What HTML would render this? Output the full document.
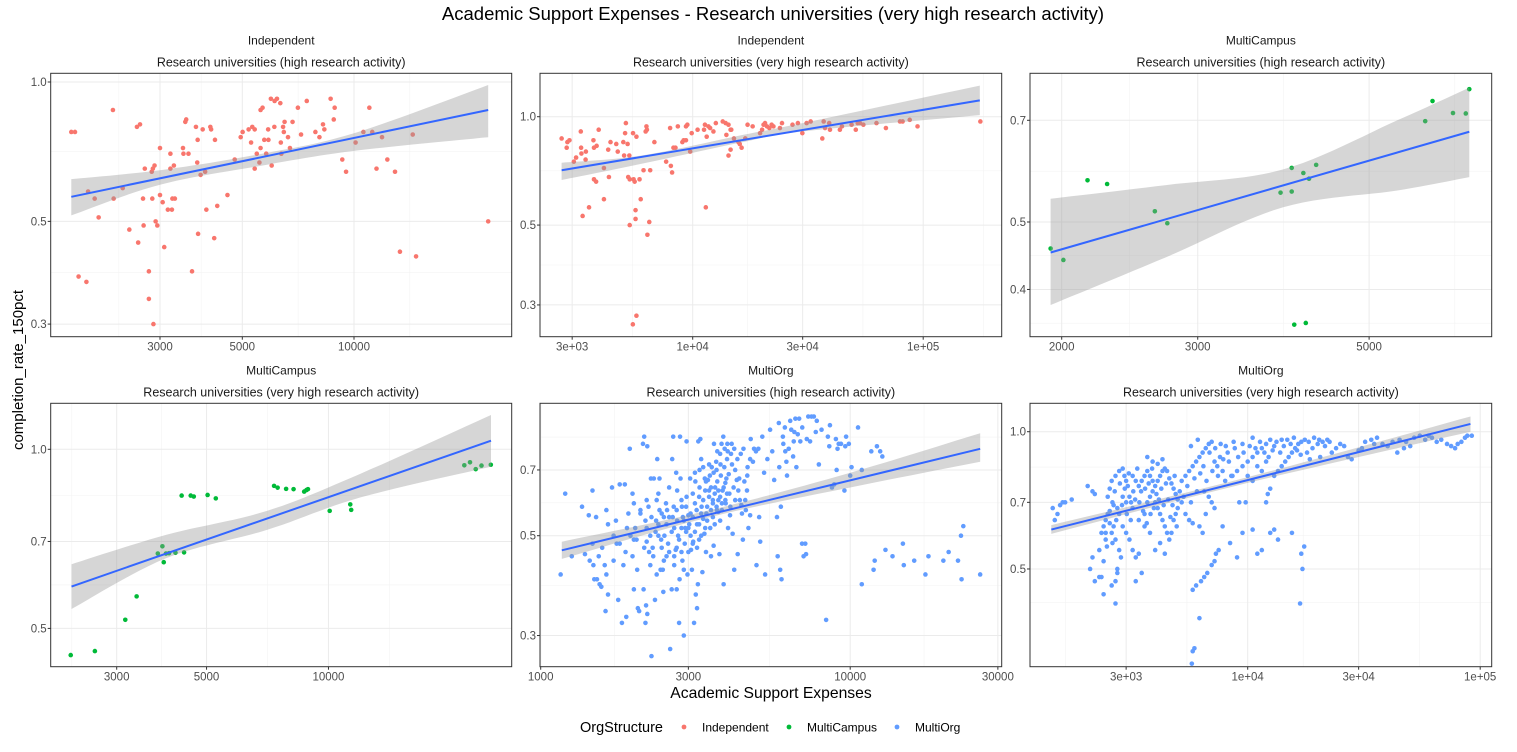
<!DOCTYPE html>
<html><head><meta charset="utf-8"><style>
body{margin:0;background:#fff;}
svg text{font-family:"Liberation Sans",sans-serif;}
</style></head><body>
<svg id="chart" width="1517" height="747" viewBox="0 0 1517 747" xmlns="http://www.w3.org/2000/svg">
<rect width="1517" height="747" fill="#fff"/>
<text x="773" y="20" text-anchor="middle" font-size="18.5" fill="#000">Academic Support Expenses - Research universities (very high research activity)</text>
<text x="771" y="698" text-anchor="middle" font-size="15.7" fill="#000">Academic Support Expenses</text>
<text transform="translate(23,370) rotate(-90)" text-anchor="middle" font-size="15" fill="#000">completion_rate_150pct</text>
<g>
<text x="580" y="732" font-size="14.5" fill="#000">OrgStructure</text>
<circle cx="684" cy="727" r="2.4" fill="#F8766D"/>
<text x="702" y="731.5" font-size="12" fill="#000">Independent</text>
<circle cx="789" cy="727" r="2.4" fill="#00BA38"/>
<text x="807" y="731.5" font-size="12" fill="#000">MultiCampus</text>
<circle cx="897" cy="727" r="2.4" fill="#619CFF"/>
<text x="915" y="731.5" font-size="12" fill="#000">MultiOrg</text>
</g>
</svg>
<script>
// ---------- Panel 1: Independent / high research ----------
const p1Points = [[1730,.78],[1770,.78],[1810,.38],[1900,.37],[1920,.58],[2000,.56],[2050,.51],[2240,.87],[2250,.56],[2380,.59],[2480,.48],[2600,.80],[2650,.81],[2620,.45],[2700,.56],[2710,.49],[2730,.65],[2800,.39],[2800,.34],[2850,.64],[2860,.56],[2870,.65],[2900,.66],[2880,.30],[2920,.50],[2950,.49],[3000,.72],[3000,.57],[3050,.55],[3080,.44],[3150,.53],[3200,.70],[3200,.65],[3230,.53],[3240,.56],[3270,.66],[3290,.56],[3460,.72],[3470,.70],[3510,.82],[3530,.83],[3580,.70],[3660,.39],[3750,.80],[3780,.67],[3790,.75],[3800,.47],[3860,.63],[3910,.79],[3970,.64],[4000,.53],[4100,.80],[4120,.79],[4200,.46],[4220,.75],[4280,.54],[4560,.57],[4770,.68],[4950,.76],[5010,.78],[5200,.79],[5280,.74],[5320,.80],[5400,.79],[5400,.65],[5470,.70],[5560,.67],[5600,.72],[5600,.87],[5670,.88],[5730,.75],[5800,.70],[5880,.75],[5870,.79],[5970,.92],[6000,.66],[6100,.80],[6110,.91],[6200,.92],[6330,.90],[6350,.74],[6370,.70],[6440,.80],[6500,.82],[6470,.78],[6640,.76],[6720,.72],[6830,.82],[7060,.88],[7200,.77],[7460,.91],[7870,.78],[8070,.76],[8250,.81],[8320,.79],[8650,.92],[8870,.88],[8820,.83],[9300,.68],[9520,.64],[10100,.74],[10600,.78],[11000,.88],[11200,.78],[11500,.65],[11900,.76],[12300,.68],[12900,.64],[13300,.43],[14400,.77],[14700,.42],[23000,.50]];
const p1FitX = [1730, 23000];
const p1FitY = [0.565, 0.87];
const p1BandX = [1730, 3000, 5650, 10000, 23000];
const p1BandHi = [0.617, 0.645, 0.70, 0.775, 0.985];
const p1BandLo = [0.515, 0.60, 0.66, 0.71, 0.76];
const p1XTicks = [3000, 5000, 10000];
const p1XLabels = ["3000", "5000", "10000"];
const p1YTicks = [0.3, 0.5, 1.0];
const p1YLabels = ["0.3", "0.5", "1.0"];

// ---------- Panel 2: Independent / very high research ----------
const p2Points = [[2700,.87],[2840,.82],[2860,.85],[2920,.86],[3050,.75],[3120,.77],[3270,.91],[3280,.82],[3290,.79],[3330,.53],[3430,.76],[3440,.80],[3550,.56],[3710,.86],[3730,.82],[3730,.67],[3810,.66],[3830,.83],[3910,.92],[4120,.59],[4120,.72],[4300,.81],[4330,.68],[4400,.85],[4660,.84],[4730,.80],[5000,.85],[5040,.78],[5090,.90],[5130,.96],[5220,.84],[5250,.68],[5310,.78],[5330,.50],[5330,.67],[5510,.90],[5540,.67],[5600,.66],[5650,.55],[5650,.52],[5700,.88],[5700,.28],[5500,.265],[5880,.67],[5950,.59],[6120,.71],[6250,.91],[6300,.94],[6330,.92],[6360,.47],[6480,.51],[6540,.71],[6820,.85],[7670,.75],[7980,.93],[8040,.73],[8140,.70],[8250,.82],[8420,.82],[8620,.94],[9020,.85],[9140,.86],[9350,.86],[9350,.94],[9480,.95],[9750,.80],[9900,.90],[10500,.92],[11200,.92],[11300,.95],[11400,.56],[11500,.88],[11700,.94],[11900,.93],[12300,.91],[12600,.96],[13500,.97],[13900,.96],[14000,.89],[14300,.95],[14300,.78],[14600,.92],[14600,.81],[14700,.92],[15100,.87],[15800,.85],[16000,.84],[16300,.82],[16900,.87],[17300,.95],[18200,.94],[19600,.90],[20000,.92],[20300,.95],[20600,.96],[21000,.94],[21500,.93],[22000,.95],[22400,.94],[23900,.93],[24400,.96],[27100,.95],[28600,.96],[29900,.90],[31200,.96],[32500,.97],[36500,.87],[37000,.97],[37500,.93],[39100,.96],[39400,.92],[43500,.92],[44400,.94],[48900,.95],[51000,.92],[52000,.96],[53200,.96],[55000,.95],[62700,.96],[68900,.93],[79300,.97],[81400,.97],[87400,.98],[94500,.94],[177000,.97]];
const p2FitX = [2700, 176000];
const p2FitY = [0.71, 1.11];
const p2BandX = [2700, 6000, 16500, 30000, 176000];
const p2BandHi = [0.745, 0.78, 0.89, 0.96, 1.22];
const p2BandLo = [0.667, 0.74, 0.85, 0.91, 1.01];
const p2XTicks = [3000, 10000, 30000, 100000];
const p2XLabels = ["3e+03", "1e+04", "3e+04", "1e+05"];
const p2YTicks = [0.3, 0.5, 1.0];
const p2YLabels = ["0.3", "0.5", "1.0"];

// ---------- Panel 3: MultiCampus / high research ----------
const p3Points = [[1935,.458],[2010,.441],[2160,.574],[2290,.567],[2640,.518],[2740,.498],[3840,.551],[3970,.553],[3970,.598],[4000,.356],[4110,.588],[4140,.358],[4180,.577],[4270,.604],[5910,.698],[6040,.746],[6420,.717],[6670,.716],[6740,.776]];
const p3FitX = [1935, 6740];
const p3FitY = [0.452, 0.674];
const p3BandX = [1935, 2730, 3870, 5440, 6740];
const p3BandHi = [0.54, 0.565, 0.595, 0.70, 0.78];
const p3BandLo = [0.38, 0.445, 0.525, 0.555, 0.58];
const p3XTicks = [2000, 3000, 5000];
const p3XLabels = ["2000", "3000", "5000"];
const p3YTicks = [0.4, 0.5, 0.7];
const p3YLabels = ["0.4", "0.5", "0.7"];

// ---------- Panel 4: MultiCampus / very high research ----------
const p4Points = [[2310,.451],[2650,.458],[3150,.517],[3360,.566],[3790,.668],[3890,.687],[3920,.646],[3970,.668],[4040,.669],[4190,.670],[4400,.671],[4340,.836],[4570,.836],[4650,.833],[5030,.838],[5270,.827],[7340,.868],[7490,.862],[7860,.858],[8200,.857],[8710,.849],[8820,.854],[8900,.857],[10070,.788],[11320,.808],[11380,.791],[21650,.940],[22360,.951],[23100,.926],[23870,.939],[25170,.942]];
const p4FitX = [2320, 25200];
const p4FitY = [0.588, 1.034];
const p4BandX = [2320, 3970, 7050, 12000, 25200];
const p4BandHi = [0.641, 0.718, 0.788, 0.91, 1.142];
const p4BandLo = [0.539, 0.656, 0.732, 0.83, 0.935];
const p4XTicks = [3000, 5000, 10000];
const p4XLabels = ["3000", "5000", "10000"];
const p4YTicks = [0.5, 0.7, 1.0];
const p4YLabels = ["0.5", "0.7", "1.0"];

// ---------- Panel 5: MultiOrg / high research ----------
const p5Points = [[1160,.41],[1200,.62],[1260,.45],[1360,.58],[1390,.455],[1430,.555],[1440,.44],[1470,.63],[1470,.48],[1480,.43],[1490,.40],[1510,.55],[1520,.40],[1540,.45],[1550,.39],[1570,.385],[1610,.43],[1620,.34],[1630,.57],[1630,.41],[1650,.37],[1650,.53],[1700,.64],[1720,.44],[1750,.54],[1760,.48],[1780,.36],[1800,.65],[1830,.32],[1850,.43],[1870,.65],[1890,.33],[1920,.56],[1940,.78],[1950,.50],[1980,.62],[2000,.38],[2000,.59],[2020,.52],[2040,.49],[2050,.42],[2060,.345],[2080,.34],[2100,.57],[2140,.80],[2150,.38],[2160,.83],[2180,.54],[2180,.32],[2190,.35],[2200,.485],[2210,.79],[2210,.335],[2230,.58],[2240,.46],[2260,.43],[2270,.67],[2280,.55],[2280,.27],[2310,.45],[2320,.67],[2340,.36],[2370,.60],[2370,.41],[2380,.74],[2400,.50],[2420,.67],[2420,.57],[2440,.42],[2460,.47],[2480,.42],[2490,.375],[2500,.55],[2510,.50],[2540,.59],[2550,.45],[2580,.48],[2600,.64],[2620,.28],[2650,.38],[2660,.74],[2670,.55],[2680,.83],[2690,.58],[2700,.43],[2730,.465],[2740,.69],[2750,.38],[2760,.63],[2780,.50],[2800,.32],[2810,.40],[2820,.83],[2830,.67],[2850,.52],[2870,.44],[2880,.55],[2900,.30],[2920,.48],[2930,.52],[2960,.81],[2980,.41],[3000,.555],[3020,.53],[3040,.67],[3060,.465],[3080,.42],[3100,.62],[3110,.485],[3130,.32],[3150,.69],[3170,.37],[3190,.57],[3200,.345],[3220,.39],[3230,.81],[3250,.53],[3260,.64],[3280,.82],[3310,.58],[3330,.415],[3350,.71],[3380,.505],[3390,.67],[3420,.46],[3430,.56],[3470,.665],[3500,.63],[3530,.52],[3550,.45],[3570,.71],[3600,.59],[3620,.475],[3630,.80],[3660,.64],[3690,.73],[3710,.57],[3720,.77],[3750,.60],[3780,.455],[3800,.54],[3810,.72],[3840,.80],[3870,.63],[3890,.83],[3900,.39],[3930,.78],[3960,.59],[3980,.67],[4010,.80],[4030,.52],[4070,.62],[4090,.555],[4140,.80],[4170,.505],[4220,.42],[4250,.60],[4300,.665],[4330,.455],[4380,.67],[4430,.76],[4470,.56],[4500,.49],[4520,.78],[4580,.60],[4640,.63],[4660,.71],[4690,.52],[4750,.555],[4770,.82],[4850,.73],[4890,.78],[4960,.77],[4980,.43],[5050,.78],[5080,.55],[5120,.485],[5270,.69],[5310,.41],[5510,.86],[5600,.77],[5680,.665],[5800,.55],[5830,.45],[5880,.89],[5940,.42],[5970,.58],[6000,.40],[6060,.83],[6080,.80],[6170,.77],[6220,.73],[6250,.68],[6330,.78],[6400,.90],[6450,.86],[6540,.75],[6570,.81],[6650,.91],[6700,.71],[6770,.84],[6840,.91],[6900,.81],[6990,.48],[7070,.45],[7160,.48],[7200,.455],[7240,.82],[7320,.92],[7420,.81],[7500,.92],[7630,.92],[7740,.85],[7920,.72],[8080,.86],[8360,.325],[8470,.83],[8560,.79],[8730,.64],[8880,.65],[8990,.82],[9040,.70],[9180,.80],[9340,.80],[9580,.63],[9640,.79],[9900,.80],[10000,.68],[10100,.71],[10600,.87],[10900,.70],[10900,.39],[11700,.77],[11900,.42],[12000,.44],[12200,.79],[12500,.77],[12700,.75],[13000,.465],[13700,.45],[14800,.48],[14900,.43],[16100,.44],[17500,.41],[17900,.45],[20000,.44],[20800,.46],[22300,.44],[22800,.50],[22900,.40],[23200,.525],[26300,.41],[2600,.55],[2700,.52],[2750,.57],[2850,.60],[2900,.54],[2950,.58],[3000,.52],[3050,.56],[3100,.55],[3150,.59],[3200,.53],[3250,.61],[3300,.56],[3350,.60],[3400,.63],[3450,.58],[3500,.61],[3550,.64],[3600,.60],[3650,.62],[3700,.58],[3750,.63],[3800,.61],[3850,.57],[3900,.64],[3950,.60],[4000,.62],[3300,.50],[3100,.48],[2800,.49],[2400,.53],[2200,.52],[2000,.49],[2300,.47],[2600,.46],[2500,.44],[2700,.45],[2900,.42],[3000,.46],[3200,.47],[3400,.52],[3600,.55],[4100,.58],[4200,.64],[4400,.60],[4600,.57],[3700,.70],[3500,.72],[3300,.74],[3800,.76],[4000,.74],[2100,.56],[1900,.52],[1800,.48],[2400,.62],[2200,.60],[2350,.51],[2450,.49],[2550,.53],[2650,.51],[2750,.47],[2850,.46],[2950,.51],[3050,.50],[3150,.51],[3250,.49],[3350,.545],[3450,.54],[3550,.57],[3650,.53],[3750,.565],[3850,.59],[3950,.655],[4050,.685],[4150,.72],[4250,.70],[4350,.63],[4450,.585],[4550,.66],[4650,.68],[4750,.74],[3420,.66],[3520,.68],[3620,.69],[3720,.66],[3820,.68],[3920,.71],[4020,.77],[4120,.76],[4220,.78],[4320,.74],[3260,.70],[3160,.66],[2960,.61],[2860,.58],[2760,.54],[2560,.57],[2460,.56],[2360,.54],[2260,.50],[2160,.47],[1980,.45],[1880,.46],[1720,.50],[1580,.47],[5200,.83],[5400,.74],[5900,.71],[6150,.87],[6600,.85],[7000,.87],[7800,.90],[8600,.88],[9100,.78],[9700,.83]];
const p5FitX = [1170, 26300];
const p5FitY = [0.464, 0.78];
const p5BandX = [1170, 3520, 10000, 26300];
const p5BandHi = [0.485, 0.57, 0.69, 0.845];
const p5BandLo = [0.444, 0.55, 0.64, 0.73];
const p5XTicks = [1000, 3000, 10000, 30000];
const p5XLabels = ["1000", "3000", "10000", "30000"];
const p5YTicks = [0.3, 0.5, 0.7];
const p5YLabels = ["0.3", "0.5", "0.7"];

// ---------- Panel 6: MultiOrg / very high research ----------
const p6Points = [[1450,.68],[1480,.64],[1520,.66],[1560,.69],[1600,.70],[1640,.70],[1750,.71],[2050,.76],[2150,.74],[2200,.73],[2100,.50],[2150,.53],[2200,.47],[2300,.48],[2400,.44],[2350,.48],[2300,.55],[2400,.52],[2450,.58],[2350,.60],[2400,.62],[2450,.64],[2500,.66],[2550,.67],[2600,.60],[2650,.62],[2700,.58],[2700,.47],[2750,.49],[2700,.42],[2750,.50],[2800,.55],[2850,.53],[2600,.46],[2500,.72],[2550,.75],[2600,.78],[2700,.80],[2800,.82],[2900,.83],[2950,.80],[3000,.78],[3050,.76],[3100,.72],[3150,.70],[2650,.69],[2800,.66],[2900,.62],[3000,.60],[3100,.58],[3200,.55],[3300,.53],[3400,.54],[3500,.49],[3300,.47],[3600,.66],[3700,.70],[3800,.72],[3900,.74],[4000,.76],[4100,.78],[4200,.80],[4300,.82],[4400,.83],[4500,.82],[4600,.79],[4700,.77],[4800,.75],[4900,.73],[5000,.71],[3200,.80],[3300,.78],[3400,.76],[3500,.78],[3600,.80],[3700,.82],[3800,.80],[3900,.78],[4000,.70],[4100,.68],[4200,.66],[4300,.64],[4400,.62],[4500,.60],[4600,.58],[4700,.60],[4800,.64],[4900,.66],[5000,.68],[5200,.70],[5400,.66],[5600,.64],[5800,.63],[4000,.55],[4200,.57],[4400,.54],[3800,.60],[3600,.62],[3400,.64],[3200,.68],[3000,.70],[2900,.72],[5200,.78],[5400,.80],[5600,.82],[5800,.84],[6000,.86],[6200,.88],[6400,.90],[6600,.92],[6800,.94],[7000,.95],[5700,.93],[6100,.96],[6500,.74],[6800,.72],[7000,.70],[7200,.68],[6600,.66],[6200,.62],[6400,.60],[5800,.45],[6000,.46],[6300,.47],[6500,.48],[6700,.49],[7000,.51],[7200,.52],[7500,.55],[7300,.54],[6200,.39],[5800,.33],[5900,.335],[5750,.31],[7800,.62],[8400,.57],[9000,.53],[9500,.60],[10500,.61],[11000,.54],[11500,.55],[12500,.60],[13500,.58],[13000,.61],[15500,.60],[17000,.54],[17500,.56],[17200,.50],[16800,.42],[8000,.78],[8500,.80],[9000,.82],[9500,.84],[10000,.86],[10500,.88],[11000,.90],[11500,.92],[12000,.94],[12500,.96],[10500,.97],[9500,.94],[8800,.92],[8200,.90],[7600,.88],[7200,.86],[7400,.84],[7800,.82],[8600,.80],[9200,.70],[9800,.70],[12000,.70],[12500,.75],[12200,.73],[13000,.80],[13500,.82],[14000,.84],[14500,.86],[15000,.88],[15500,.90],[16000,.92],[16500,.94],[17000,.95],[14000,.96],[13000,.93],[11500,.82],[11000,.84],[10000,.80],[10500,.78],[12000,.86],[18000,.90],[19000,.92],[20000,.94],[21000,.95],[22000,.96],[18500,.87],[20500,.88],[23000,.90],[24000,.92],[25000,.94],[26000,.93],[27000,.88],[28000,.87],[30000,.91],[32000,.95],[34000,.96],[36000,.97],[38000,.94],[40000,.93],[42000,.95],[45000,.96],[48000,.95],[50000,.93],[52000,.97],[55000,.98],[58000,.96],[60000,.98],[62000,.97],[65000,.95],[68000,.96],[72000,.94],[75000,.93],[78000,.92],[80000,.94],[83000,.95],[86000,.97],[88000,.98],[92000,.98],[47000,.92],[44000,.90],[35000,.94],[31000,.92],[2550,.63],[2620,.70],[2680,.74],[2750,.68],[2820,.77],[2880,.69],[2960,.75],[3020,.66],[3080,.81],[3140,.64],[3220,.74],[3280,.71],[3350,.83],[3420,.70],[3480,.74],[3550,.67],[3620,.75],[3680,.63],[3750,.77],[3820,.66],[3880,.83],[3950,.68],[4050,.73],[4150,.71],[4250,.75],[4350,.69],[4450,.77],[4550,.71],[4650,.65],[4750,.69],[4850,.80],[4950,.62],[5100,.74],[5300,.72],[5500,.76],[5700,.70],[5900,.79],[6050,.74],[6250,.81],[6450,.84],[6650,.78],[6850,.90],[7050,.82],[7250,.92],[7450,.80],[7650,.94],[7850,.87],[8050,.93],[8300,.86],[8700,.95],[9100,.88],[9600,.90],[10200,.93],[10800,.92],[11300,.95],[11800,.90],[12300,.88],[12800,.91],[13300,.95],[13800,.90],[14300,.93],[14800,.96],[15300,.94],[15800,.97],[16300,.91],[16900,.89],[17600,.96],[18300,.95],[19300,.97],[20300,.96],[21500,.93],[22500,.95],[3900,.86],[3700,.88],[4100,.85],[4300,.87],[2450,.60],[2480,.56],[2720,.64],[2620,.57]];
const p6FitX = [1430, 90800];
const p6FitY = [0.61, 1.04];
const p6BandX = [1430, 10000, 90800];
const p6BandHi = [0.624, 0.795, 1.08];
const p6BandLo = [0.597, 0.772, 1.0];
const p6XTicks = [3000, 10000, 30000, 100000];
const p6XLabels = ["3e+03", "1e+04", "3e+04", "1e+05"];
const p6YTicks = [0.5, 0.7, 1.0];
const p6YLabels = ["0.5", "0.7", "1.0"];

const NS = "http://www.w3.org/2000/svg";
const svg = document.getElementById('chart');
const L = Math.log10;

function mk(tag, attrs, parent) {
  const e = document.createElementNS(NS, tag);
  for (const k in attrs) e.setAttribute(k, attrs[k]);
  parent.appendChild(e);
  return e;
}

// Catmull-Rom sampled smooth curve through pixel points
function smooth(pts) {
  if (pts.length < 3) return pts;
  const out = [];
  for (let i = 0; i < pts.length - 1; i++) {
    const p0 = pts[Math.max(0, i - 1)], p1 = pts[i], p2 = pts[i + 1], p3 = pts[Math.min(pts.length - 1, i + 2)];
    for (let k = 0; k < 12; k++) {
      const t = k / 12, t2 = t * t, t3 = t2 * t;
      const f = (a, b, c, d) => 0.5 * ((2 * b) + (-a + c) * t + (2 * a - 5 * b + 4 * c - d) * t2 + (-a + 3 * b - 3 * c + d) * t3);
      out.push([f(p0[0], p1[0], p2[0], p3[0]), f(p0[1], p1[1], p2[1], p3[1])]);
    }
  }
  out.push(pts[pts.length - 1]);
  return out;
}

const panels = [
  {id:'p1', strip1:'Independent', strip2:'Research universities (high research activity)', x0:50.7, x1:511.7, y0:73.3, y1:336.7, xa:[3000,160,371], ya:[1,82,463], color:'#F8766D', pts:p1Points, fx:p1FitX, fy:p1FitY, bx:p1BandX, bh:p1BandHi, bl:p1BandLo, xt:p1XTicks, xl:p1XLabels, yt:p1YTicks, yl:p1YLabels},
  {id:'p2', strip1:'Independent', strip2:'Research universities (very high research activity)', x0:540, x1:1001.7, y0:73.3, y1:336.7, xa:[10000,692.7,230.5], ya:[1,116.7,360], color:'#F8766D', pts:p2Points, fx:p2FitX, fy:p2FitY, bx:p2BandX, bh:p2BandHi, bl:p2BandLo, xt:p2XTicks, xl:p2XLabels, yt:p2YTicks, yl:p2YLabels},
  {id:'p3', strip1:'MultiCampus', strip2:'Research universities (high research activity)', x0:1030, x1:1491.7, y0:73.3, y1:336.7, xa:[2000,1061.7,772.5], ya:[0.5,222,696], color:'#00BA38', pts:p3Points, fx:p3FitX, fy:p3FitY, bx:p3BandX, bh:p3BandHi, bl:p3BandLo, xt:p3XTicks, xl:p3XLabels, yt:p3YTicks, yl:p3YLabels},
  {id:'p4', strip1:'MultiCampus', strip2:'Research universities (very high research activity)', x0:50.7, x1:511.7, y0:403.3, y1:666.7, xa:[3000,116.7,405], ya:[1,449.3,595], color:'#00BA38', pts:p4Points, fx:p4FitX, fy:p4FitY, bx:p4BandX, bh:p4BandHi, bl:p4BandLo, xt:p4XTicks, xl:p4XLabels, yt:p4YTicks, yl:p4YLabels},
  {id:'p5', strip1:'MultiOrg', strip2:'Research universities (high research activity)', x0:540, x1:1001.7, y0:403.3, y1:666.7, xa:[1000,540.7,309.5], ya:[0.5,535.7,450], color:'#619CFF', pts:p5Points, fx:p5FitX, fy:p5FitY, bx:p5BandX, bh:p5BandHi, bl:p5BandLo, xt:p5XTicks, xl:p5XLabels, yt:p5YTicks, yl:p5YLabels},
  {id:'p6', strip1:'MultiOrg', strip2:'Research universities (very high research activity)', x0:1030, x1:1491.7, y0:403.3, y1:666.7, xa:[10000,1247.7,232.5], ya:[1,431.7,456], color:'#619CFF', pts:p6Points, fx:p6FitX, fy:p6FitY, bx:p6BandX, bh:p6BandHi, bl:p6BandLo, xt:p6XTicks, xl:p6XLabels, yt:p6YTicks, yl:p6YLabels}
];

panels.forEach(p => {
  const sx = v => p.xa[1] + (L(v) - L(p.xa[0])) * p.xa[2];
  const sy = v => p.ya[1] - (L(v) - L(p.ya[0])) * p.ya[2];
  const g = mk('g', {}, svg);
  
  
  const cx = (p.x0 + p.x1) / 2;
  const s1 = mk('text', {x:cx, y:p.y0 - 29, 'text-anchor':'middle', 'font-size':12, fill:'#1a1a1a'}, g);
  s1.textContent = p.strip1;
  
  
  const s2 = mk('text', {x:cx, y:p.y0 - 7, 'text-anchor':'middle', 'font-size':12.5, fill:'#1a1a1a'}, g);
  s2.textContent = p.strip2;
  
  

  const clipId = 'clip-' + p.id;
  const cp = mk('clipPath', {id:clipId}, g);
  mk('rect', {x:p.x0, y:p.y0, width:p.x1 - p.x0, height:p.y1 - p.y0}, cp);
  const inner = mk('g', {'clip-path':'url(#' + clipId + ')'}, g);
  
  

  function minors(t) {
    const lt = t.map(L), out = [];
    for (let i = 0; i < lt.length - 1; i++) out.push((lt[i] + lt[i+1]) / 2);
    out.push(lt[0] - (lt[1] - lt[0]) / 2);
    out.push(lt[lt.length-1] + (lt[lt.length-1] - lt[lt.length-2]) / 2);
    return out.map(v => Math.pow(10, v));
  }
  minors(p.xt).forEach(v => {
    const l = mk('line', {x1:sx(v), x2:sx(v), y1:p.y0, y2:p.y1, stroke:'#f3f3f3', 'stroke-width':0.6}, inner);
    
    
  });
  minors(p.yt).forEach(v => {
    const l = mk('line', {x1:p.x0, x2:p.x1, y1:sy(v), y2:sy(v), stroke:'#f3f3f3', 'stroke-width':0.6}, inner);
    
    
  });
  p.xt.forEach(v => {
    const l = mk('line', {x1:sx(v), x2:sx(v), y1:p.y0, y2:p.y1, stroke:'#ebebeb', 'stroke-width':1}, inner);
    
    
  });
  p.yt.forEach(v => {
    const l = mk('line', {x1:p.x0, x2:p.x1, y1:sy(v), y2:sy(v), stroke:'#ebebeb', 'stroke-width':1}, inner);
    
    
  });

  p.pts.forEach(d => {
    const c = mk('circle', {cx:sx(d[0]), cy:sy(d[1]), r:2.3, fill:p.color}, inner);
    
    
  });

  const hi = smooth(p.bx.map((v, i) => [sx(v), sy(p.bh[i])]));
  const lo = smooth(p.bx.map((v, i) => [sx(v), sy(p.bl[i])])).reverse();
  const dpath = 'M' + hi.concat(lo).map(q => q[0].toFixed(1) + ',' + q[1].toFixed(1)).join('L') + 'Z';
  const band = mk('path', {d:dpath, fill:'#999999', 'fill-opacity':0.4}, inner);
  
  

  const fit = mk('line', {x1:sx(p.fx[0]), y1:sy(p.fy[0]), x2:sx(p.fx[1]), y2:sy(p.fy[1]), stroke:'#3366FF', 'stroke-width':2}, inner);
  
  

  const border = mk('rect', {x:p.x0, y:p.y0, width:p.x1 - p.x0, height:p.y1 - p.y0, fill:'none', stroke:'#333333', 'stroke-width':1}, g);
  
  

  p.xt.forEach((v, i) => {
    const x = sx(v);
    const tk = mk('line', {x1:x, x2:x, y1:p.y1, y2:p.y1 + 3, stroke:'#333', 'stroke-width':1}, g);
    
    
    const t = mk('text', {x:x, y:p.y1 + 14, 'text-anchor':'middle', 'font-size':11.5, fill:'#4d4d4d'}, g);
    t.textContent = p.xl[i];
    
    
  });
  p.yt.forEach((v, i) => {
    const y = sy(v);
    const tk = mk('line', {x1:p.x0 - 3, x2:p.x0, y1:y, y2:y, stroke:'#333', 'stroke-width':1}, g);
    
    
    const t = mk('text', {x:p.x0 - 4, y:y + 4, 'text-anchor':'end', 'font-size':11.5, fill:'#4d4d4d'}, g);
    t.textContent = p.yl[i];
    
    
  });
});
</script>
</body></html>
